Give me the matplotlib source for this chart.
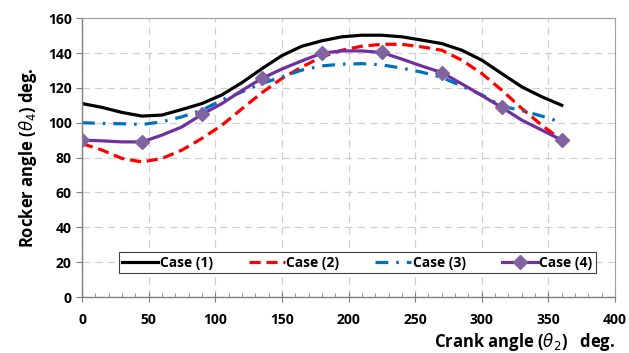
import matplotlib
matplotlib.use("Agg")
import matplotlib.pyplot as plt
from matplotlib.ticker import MultipleLocator

plt.rcParams['font.family'] = ['Open Sans', 'DejaVu Sans']
plt.rcParams['mathtext.fontset'] = 'dejavusans'

# crank angle (deg), read every 15 degrees
crank = [0, 15, 30, 45, 60, 75, 90, 105, 120, 135, 150, 165, 180,
         195, 210, 225, 240, 255, 270, 285, 300, 315, 330, 345, 360]

case1 = [111, 108.8, 105.9, 103.8, 104.4, 107.6, 111, 116, 123, 131, 138.5, 143.9, 147,
         149.3, 150.2, 150.2, 149.3, 147.4, 145.4, 141.6, 135.9, 128.2, 120.6, 114.9, 110]
case2 = [88, 84.3, 79.5, 77.5, 79.5, 84.3, 91, 98.6, 108, 117.2, 125.4, 132, 137.8,
         141.6, 143.9, 145, 145, 143.5, 141.6, 135.9, 128.2, 118.7, 108.2, 98.6, 90]
case3 = [100, 99.6, 99.4, 99, 100.5, 103.4, 107.2, 113, 117.7, 122.5, 126.3, 130.2, 132.6,
         133.6, 133.9, 133.2, 131.3, 129, 126, 121, 116, 109.5, 107, 103.8, 100.2]
case4 = [90, 89.6, 89, 89, 92.9, 97.6, 104.8, 111, 118.5, 125.4, 130.8, 135.5, 139.9,
         141.2, 141.2, 140.3, 136.5, 132.5, 128.8, 122.3, 115.6, 108.8, 101.5, 95.8, 90]

fig = plt.figure(figsize=(6.29, 3.53), dpi=100)
ax = fig.add_axes([0.1304, 0.1586, 0.8474, 0.790])

lw = 2.3
ax.plot(crank, case1, color='black', lw=lw, label='Case (1)')
ax.plot(crank, case2, color='#FF0000', lw=lw, linestyle=(0, (3.5, 1.8)), label='Case (2)')
ax.plot(crank, case3, color='#0070C0', lw=lw, linestyle=(0, (4, 2.5, 0.8, 2.5)), label='Case (3)')
ax.plot(crank, case4, color='#7030A0', lw=lw, marker='D', markersize=7,
        markerfacecolor='#8064A2', markeredgecolor='#8064A2', markevery=3, label='Case (4)')

ax.set_xlim(0, 400)
ax.set_ylim(0, 160)
ax.xaxis.set_major_locator(MultipleLocator(50))
ax.xaxis.set_minor_locator(MultipleLocator(10))
ax.yaxis.set_major_locator(MultipleLocator(20))

ax.grid(True, which='major', color='#D0D0D0', linestyle=(0, (6, 4)), linewidth=0.9)
ax.set_axisbelow(True)

for s in ['top', 'right']:
    ax.spines[s].set_color('#A0A0A0')
    ax.spines[s].set_linewidth(0.8)
for s in ['left', 'bottom']:
    ax.spines[s].set_color('#808080')
    ax.spines[s].set_linewidth(1.0)

ax.tick_params(axis='x', which='major', direction='inout', length=7, color='#808080', pad=8)
ax.tick_params(axis='x', which='minor', direction='in', length=3, color='#808080')
ax.tick_params(axis='y', which='major', direction='out', length=4, color='#808080')
for lbl in ax.get_xticklabels() + ax.get_yticklabels():
    lbl.set_fontweight('bold')
    lbl.set_fontsize(10)

ax.set_ylabel(r'Rocker angle ($\theta_4$) deg.', fontsize=12, fontweight='bold', labelpad=6)
ax.set_xlabel(r'Crank angle ($\theta_2$)   deg.', fontsize=12, fontweight='bold', loc='right', labelpad=3)

leg = ax.legend(loc='lower left', bbox_to_anchor=(0.056, 0.061, 0.921, 0.093), mode='expand',
                ncol=4, fancybox=False, framealpha=1, edgecolor='#404040',
                handlelength=2.6, handletextpad=0.1, borderpad=0.25, columnspacing=1.0,
                prop={'weight': 'bold', 'size': 10})
leg.get_frame().set_linewidth(0.8)

fig.savefig('out.png', dpi=100)
